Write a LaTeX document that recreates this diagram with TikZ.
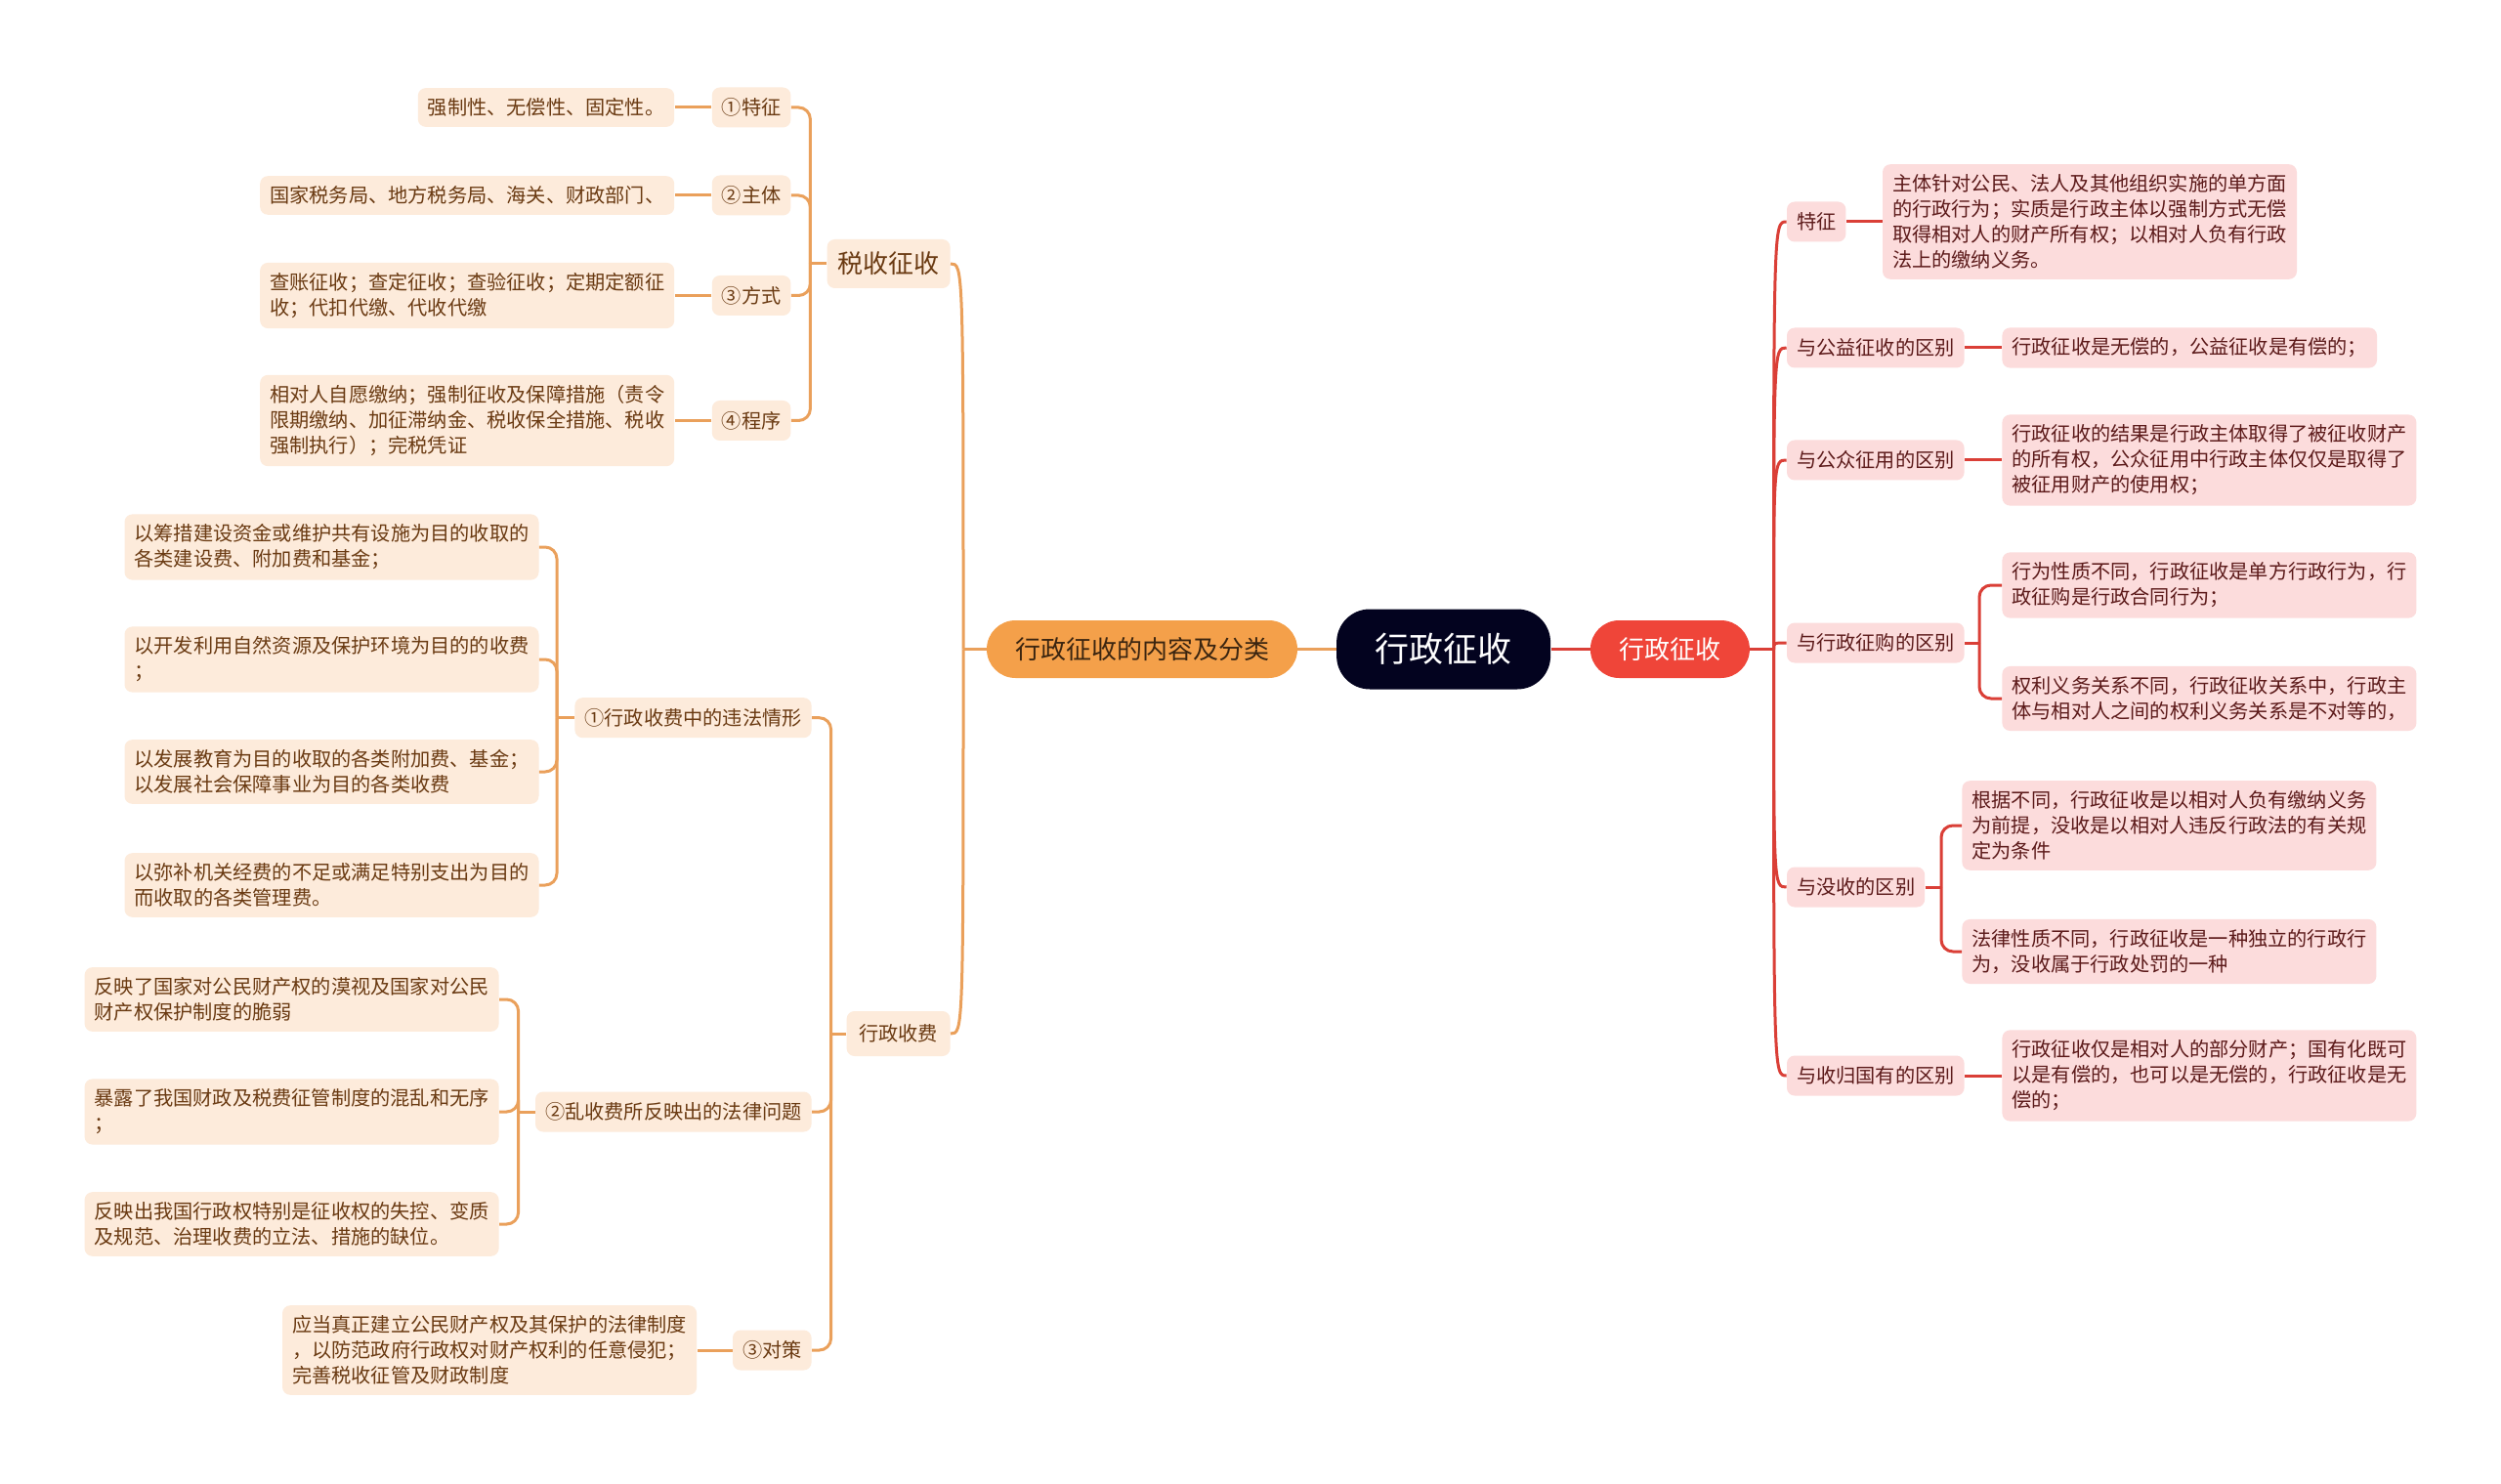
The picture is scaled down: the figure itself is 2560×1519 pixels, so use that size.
\documentclass[tikz,border=0pt]{standalone}
\usepackage{fontspec}
\setmainfont{Noto Sans CJK SC}
\usetikzlibrary{calc}
\definecolor{lfill}{HTML}{FDEBDB}
\definecolor{ltext}{HTML}{6A3A12}
\definecolor{rfill}{HTML}{FCDCDC}
\definecolor{rtext}{HTML}{5C1A1A}
\definecolor{ocol}{HTML}{EAA05B}
\definecolor{rcol}{HTML}{DA3F37}
\definecolor{orc}{HTML}{F4A04A}
\definecolor{ortext}{HTML}{3B2510}
\definecolor{redc}{HTML}{EF4539}
\definecolor{rootc}{HTML}{03031F}
\tikzset{
  base/.style={font=\fontsize{10.1}{13}\selectfont, inner xsep=5pt, inner ysep=5.2pt, rounded corners=4pt, align=left},
  lleaf/.style={base, fill=lfill, text=ltext, anchor=east},
  rleaf/.style={base, fill=rfill, text=rtext, anchor=west},
  lmid/.style={base, fill=lfill, text=ltext, anchor=east, minimum height=20.5pt},
  rmid/.style={base, fill=rfill, text=rtext, anchor=west, minimum height=20.5pt},
  oline/.style={draw=ocol, line width=1.5pt},
  rline/.style={draw=rcol, line width=1.5pt},
  rootbox/.style={fill=rootc, text=white, font=\fontsize{17.5}{20}\selectfont, minimum width=109.5pt, minimum height=41pt, rounded corners=17pt, inner sep=0pt},
  orbox/.style={fill=orc, text=ortext, font=\fontsize{13}{15}\selectfont, minimum width=159pt, minimum height=29.5pt, rounded corners=14.7pt, inner sep=0pt},
  redbox/.style={fill=redc, text=white, font=\fontsize{13}{15}\selectfont, minimum width=81.5pt, minimum height=29.5pt, rounded corners=14.7pt, inner sep=0pt},
}
\begin{document}
\begin{tikzpicture}[x=0.5pt, y=-0.5pt]
\fill[white] (0,0) rectangle (2560,1519);
\useasboundingbox (0,0) rectangle (2560,1519);

% central nodes
\node[rootbox] (root) at (1477.6,664.5) {行政征收};
\node[orbox] (orn) at (1169,664.5) {行政征收的内容及分类};
\node[redbox] (redn) at (1709.4,664.5) {行政征收};

% left level 2
\node[lmid, font=\fontsize{13}{15}\selectfont, minimum height=25pt, inner xsep=5.5pt] (shui) at (973,270) {税收征收};
\node[lmid, minimum height=23pt, inner xsep=6.3pt] (fei) at (973,1058) {行政收费};

% 税收征收 children
\node[lmid] (s1) at (809.8,110) {①特征};
\node[lmid] (s2) at (809.8,200) {②主体};
\node[lmid] (s3) at (809.8,302.5) {③方式};
\node[lmid] (s4) at (809.8,430.5) {④程序};
\node[lleaf] (s1l) at (690.6,110) {强制性、无偿性、固定性。};
\node[lleaf] (s2l) at (690.6,200) {国家税务局、地方税务局、海关、财政部门、};
\node[lleaf] (s3l) at (690.6,302.5) {查账征收；查定征收；查验征收；定期定额征\\收；代扣代缴、代收代缴};
\node[lleaf] (s4l) at (690.6,430.5) {相对人自愿缴纳；强制征收及保障措施（责令\\限期缴纳、加征滞纳金、税收保全措施、税收\\强制执行）；完税凭证};

% 行政收费 children
\node[lmid] (f1) at (831,734.7) {①行政收费中的违法情形};
\node[lmid] (f2) at (831,1138) {②乱收费所反映出的法律问题};
\node[lmid] (f3) at (831,1382) {③对策};
\node[lleaf] (f1a) at (551.9,560) {以筹措建设资金或维护共有设施为目的收取的\\各类建设费、附加费和基金；};
\node[lleaf] (f1b) at (551.9,675) {以开发利用自然资源及保护环境为目的的收费\\；};
\node[lleaf] (f1c) at (551.9,790) {以发展教育为目的收取的各类附加费、基金；\\以发展社会保障事业为目的各类收费};
\node[lleaf] (f1d) at (551.9,906) {以弥补机关经费的不足或满足特别支出为目的\\而收取的各类管理费。};
\node[lleaf] (f2a) at (511,1023) {反映了国家对公民财产权的漠视及国家对公民\\财产权保护制度的脆弱};
\node[lleaf] (f2b) at (511,1138) {暴露了我国财政及税费征管制度的混乱和无序\\；};
\node[lleaf] (f2c) at (511,1253) {反映出我国行政权特别是征收权的失控、变质\\及规范、治理收费的立法、措施的缺位。};
\node[lleaf] (f3a) at (713.5,1382) {应当真正建立公民财产权及其保护的法律制度\\，以防范政府行政权对财产权利的任意侵犯；\\完善税收征管及财政制度};

% right level 2
\node[rmid] (r1) at (1828.6,227) {特征};
\node[rmid] (r2) at (1828.6,356) {与公益征收的区别};
\node[rmid] (r3) at (1828.6,471) {与公众征用的区别};
\node[rmid] (r4) at (1828.6,658) {与行政征购的区别};
\node[rmid] (r5) at (1828.6,908) {与没收的区别};
\node[rmid] (r6) at (1828.6,1101) {与收归国有的区别};

% right leaves
\node[rleaf] (r1l) at (1926.6,227) {主体针对公民、法人及其他组织实施的单方面\\的行政行为；实质是行政主体以强制方式无偿\\取得相对人的财产所有权；以相对人负有行政\\法上的缴纳义务。};
\node[rleaf] (r2l) at (2049,356) {行政征收是无偿的，公益征收是有偿的；};
\node[rleaf] (r3l) at (2049,471) {行政征收的结果是行政主体取得了被征收财产\\的所有权，公众征用中行政主体仅仅是取得了\\被征用财产的使用权；};
\node[rleaf] (r4a) at (2049,599) {行为性质不同，行政征收是单方行政行为，行\\政征购是行政合同行为；};
\node[rleaf] (r4b) at (2049,715) {权利义务关系不同，行政征收关系中，行政主\\体与相对人之间的权利义务关系是不对等的，};
\node[rleaf] (r5a) at (2008,845) {根据不同，行政征收是以相对人负有缴纳义务\\为前提，没收是以相对人违反行政法的有关规\\定为条件};
\node[rleaf] (r5b) at (2008,974) {法律性质不同，行政征收是一种独立的行政行\\为，没收属于行政处罚的一种};
\node[rleaf] (r6l) at (2049,1101) {行政征收仅是相对人的部分财产；国有化既可\\以是有偿的，也可以是无偿的，行政征收是无\\偿的；};

% junctions
\coordinate (jL) at (986,664.5);
\coordinate (jS) at (829.4,270);
\coordinate (jF) at (850.6,1058);
\coordinate (j1) at (570,734.7);
\coordinate (j2) at (530.6,1138);
\coordinate (jR) at (1815.5,664.5);
\coordinate (jG) at (2026,658);
\coordinate (jM) at (1987,908);

% central connectors
\draw[oline] (root.west) -- (orn.east);
\draw[rline] (root.east) -- (redn.west);

% main orange spine
\draw[oline] (orn.west) -- (jL);
\draw[oline] (jL) .. controls (jL |- shui.east) and (jL |- shui.east) .. (shui.east);
\draw[oline] (jL) .. controls (jL |- fei.east) and (jL |- fei.east) .. (fei.east);

% 税收征收 spine
\draw[oline] (shui.west) -- (jS);
\foreach \c in {s1,s2,s3,s4} {
  \draw[oline, rounded corners=6pt] (jS) |- (\c.east);
}
\foreach \c/\l in {s1/s1l,s2/s2l,s3/s3l,s4/s4l} {
  \draw[oline] (\c.west) -- (\l.east);
}

% 行政收费 spine
\draw[oline] (fei.west) -- (jF);
\foreach \c in {f1,f2,f3} {
  \draw[oline, rounded corners=6pt] (jF) |- (\c.east);
}
\draw[oline] (f1.west) -- (j1);
\foreach \c in {f1a,f1b,f1c,f1d} {
  \draw[oline, rounded corners=6pt] (j1) |- (\c.east);
}
\draw[oline] (f2.west) -- (j2);
\foreach \c in {f2a,f2b,f2c} {
  \draw[oline, rounded corners=6pt] (j2) |- (\c.east);
}
\draw[oline] (f3.west) -- (f3a.east);

% red spine
\draw[rline] (redn.east) -- (jR);
\foreach \c in {r1,r2,r3,r4,r5,r6} {
  \draw[rline] (jR) .. controls (jR |- \c.west) and (jR |- \c.west) .. (\c.west);
}
\draw[rline] (r1.east) -- (r1l.west);
\draw[rline] (r2.east) -- (r2l.west);
\draw[rline] (r3.east) -- (r3l.west);
\draw[rline] (r6.east) -- (r6l.west);
\draw[rline] (r4.east) -- (jG);
\foreach \c in {r4a,r4b} {
  \draw[rline, rounded corners=6pt] (jG) |- (\c.west);
}
\draw[rline] (r5.east) -- (jM);
\foreach \c in {r5a,r5b} {
  \draw[rline, rounded corners=6pt] (jM) |- (\c.west);
}
\end{tikzpicture}
\end{document}
